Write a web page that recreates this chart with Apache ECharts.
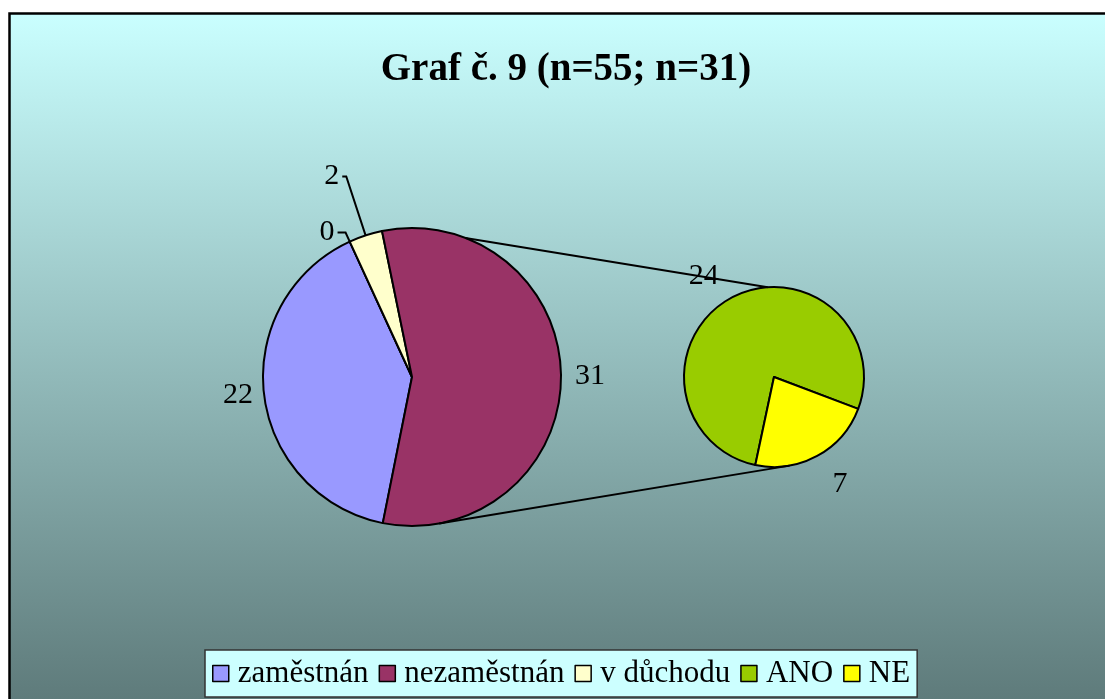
<!DOCTYPE html>
<html>
<head>
<meta charset="utf-8">
<title>Graf č. 9</title>
<script src="https://cdn.jsdelivr.net/npm/echarts@6/dist/echarts.min.js"></script>
<style>
    html, body { margin: 0; padding: 0; background: #fff; }
    #chart { width: 1105px; height: 699px; }
</style>
</head>
<body>
<div id="chart"></div>
<script>
// data
var mainNames = ['zaměstnán', 'nezaměstnán', 'v důchodu'];
var mainValues = [22, 0, 2];
var otherValue = 31; // nezaměstnán split into ANO / NE
var subNames = ['ANO', 'NE'];
var subValues = [24, 7];
var legendNames = ['zaměstnán', 'nezaměstnán', 'v důchodu', 'ANO', 'NE'];

var colors = {
    'zaměstnán': '#9999ff',
    'nezaměstnán': '#993366',
    'v důchodu': '#ffffcc',
    'ANO': '#99cc00',
    'NE': '#ffff00'
};

// pie geometry
var mainCenter = [412, 377], mainR = 149;
var subCenter = [774, 377], subR = 90;

// label line settings per slice (length, length2)
var mainLabel = {
    'zaměstnán': { show: false, length: 8, length2: 0 },
    'nezaměstnán': { show: true, length: 10, length2: 8 },
    'v důchodu': { show: true, length: 62, length2: 4 }
};
var subLabel = {
    'ANO': { show: false, length: 25, length2: 0 },
    'NE': { show: false, length: 32, length2: 0 }
};

// point on a circle, angle in degrees clockwise from 12 o'clock
function onCircle(c, r, deg) {
    var a = deg * Math.PI / 180;
    return [c[0] + r * Math.sin(a), c[1] - r * Math.cos(a)];
}

var mainData = [];
for (var i = 0; i < mainNames.length; i++) {
    mainData.push({
        name: mainNames[i],
        value: mainValues[i],
        itemStyle: { color: colors[mainNames[i]] },
        labelLine: mainLabel[mainNames[i]],
        label: { distanceToLabelLine: 3 }
    });
}
// zaměstnán label sits a little lower in the original
mainData[0].label = { distanceToLabelLine: 3, padding: [16, 0, 0, 0] };
mainData.push({
    name: 'jiné',
    value: otherValue,
    itemStyle: { color: colors['nezaměstnán'] },
    labelLine: { show: false, length: 9, length2: 0 }
});

var subData = [];
for (var j = 0; j < subNames.length; j++) {
    subData.push({
        name: subNames[j],
        value: subValues[j],
        itemStyle: { color: colors[subNames[j]] },
        labelLine: subLabel[subNames[j]],
        label: { distanceToLabelLine: 0 }
    });
}

var t1 = onCircle(mainCenter, mainR, 21), t2 = onCircle(subCenter, subR, -4);
var b1 = onCircle(mainCenter, mainR, 169.5), b2 = onCircle(subCenter, subR, 170);

var labelStyle = {
    show: true,
    position: 'outside',
    formatter: '{c}',
    color: '#000',
    fontFamily: 'Liberation Serif',
    fontSize: 30
};

var myChart = echarts.init(document.getElementById('chart'));
var option = {
    animation: false,
    title: {
        text: 'Graf č. 9 (n=55; n=31)',
        left: 561,
        textAlign: 'center',
        top: 45,
        textStyle: {
            fontFamily: 'Liberation Serif',
            fontWeight: 'bold',
            fontSize: 39,
            color: '#000'
        }
    },
    legend: {
        data: legendNames,
        left: 205,
        bottom: 2,
        padding: [8, 7, 8, 7],
        itemGap: 10,
        itemWidth: 16,
        itemHeight: 16,
        icon: 'rect',
        backgroundColor: '#ccffff',
        borderColor: '#333',
        borderWidth: 1.5,
        itemStyle: { borderColor: '#000', borderWidth: 1.5 },
        textStyle: {
            fontFamily: 'Liberation Serif',
            fontSize: 31,
            color: '#000',
            padding: [0, 0, 0, 4]
        }
    },
    graphic: [
        {
            type: 'rect',
            z: -10,
            shape: { x: 9.5, y: 13.5, width: 1120, height: 700 },
            style: {
                fill: new echarts.graphic.LinearGradient(0, 0, 0, 1, [
                    { offset: 0, color: '#caffff' },
                    { offset: 1, color: '#5c7878' }
                ]),
                stroke: '#000',
                lineWidth: 2.5
            }
        },
        {
            type: 'line',
            z: 100,
            shape: { x1: t1[0], y1: t1[1], x2: t2[0], y2: t2[1] },
            style: { stroke: '#000', lineWidth: 2 }
        },
        {
            type: 'line',
            z: 100,
            shape: { x1: b1[0], y1: b1[1], x2: b2[0], y2: b2[1] },
            style: { stroke: '#000', lineWidth: 2 }
        }
    ],
    series: [
        {
            name: 'hlavní',
            type: 'pie',
            center: mainCenter,
            radius: mainR,
            startAngle: 258.7,
            clockwise: true,
            avoidLabelOverlap: false,
            minShowLabelAngle: 0,
            label: labelStyle,
            labelLine: { lineStyle: { color: '#000', width: 2 } },
            itemStyle: { borderColor: '#000', borderWidth: 2 },
            emphasis: { disabled: true },
            data: mainData
        },
        {
            name: 'vedlejší',
            type: 'pie',
            center: subCenter,
            radius: subR,
            startAngle: 258,
            clockwise: true,
            avoidLabelOverlap: false,
            label: labelStyle,
            labelLine: { lineStyle: { color: '#000', width: 2 } },
            itemStyle: { borderColor: '#000', borderWidth: 2 },
            emphasis: { disabled: true },
            data: subData
        }
    ]
};
myChart.setOption(option);
</script>
</body>
</html>
